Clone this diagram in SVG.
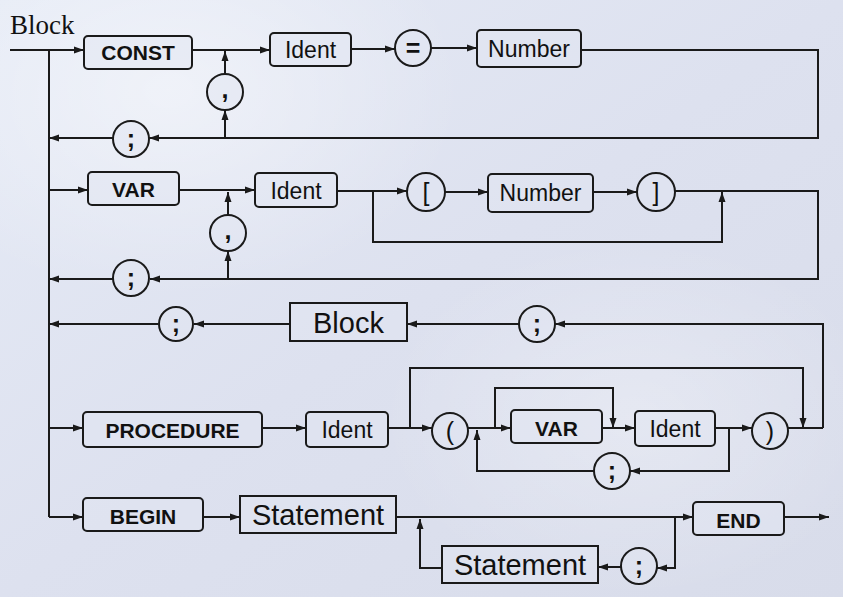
<svg xmlns="http://www.w3.org/2000/svg" width="843" height="597" viewBox="0 0 843 597">
<defs>
<linearGradient id="bg" x1="0" y1="0" x2="1" y2="1">
<stop offset="0" stop-color="#e6ebf6"/>
<stop offset="0.5" stop-color="#dde1ef"/>
<stop offset="1" stop-color="#d8dcea"/>
</linearGradient>
<radialGradient id="hl1" cx="0.2" cy="0.15" r="0.35">
<stop offset="0" stop-color="#ffffff" stop-opacity="0.45"/>
<stop offset="1" stop-color="#ffffff" stop-opacity="0"/>
</radialGradient>
<radialGradient id="hl2" cx="0.75" cy="0.7" r="0.3">
<stop offset="0" stop-color="#ffffff" stop-opacity="0.3"/>
<stop offset="1" stop-color="#ffffff" stop-opacity="0"/>
</radialGradient>
<marker id="ah" markerUnits="userSpaceOnUse" markerWidth="10" markerHeight="8" refX="10" refY="4" orient="auto">
<path d="M0,0.5 L10,4 L0,7.5 z" fill="#1a1a1a"/>
</marker>
<style>
.b{fill:#e2e6f2;fill-opacity:0.5;stroke:#1a1a1a;stroke-width:2}
.c{fill:#e2e6f2;fill-opacity:0.5;stroke:#1a1a1a;stroke-width:2}
.k{font-family:"Liberation Sans",Arial,sans-serif;font-weight:bold;font-size:21px;fill:#111;text-anchor:middle}
.n{font-family:"Liberation Sans",Arial,sans-serif;font-size:23px;fill:#111;text-anchor:middle}
.g{font-family:"Liberation Sans",Arial,sans-serif;font-size:29px;fill:#111;text-anchor:middle}
.s{font-family:"Liberation Sans",Arial,sans-serif;font-size:25px;fill:#111;text-anchor:middle}
.sb{font-family:"Liberation Sans",Arial,sans-serif;font-weight:bold;font-size:25px;fill:#111;text-anchor:middle}
#connectors path{fill:none;stroke:#1a1a1a;stroke-width:2}
.a{marker-end:url(#ah)}
</style>
</defs>
<rect width="843" height="597" fill="url(#bg)"/>
<rect width="843" height="597" fill="url(#hl1)"/>
<rect width="843" height="597" fill="url(#hl2)"/>
<text x="10" y="34" font-family="'Liberation Serif','Times New Roman',serif" font-size="27" fill="#111">Block</text>

<g id="connectors">
<!-- row 1 -->
<path d="M10,50 H49 V517"/>
<path class="a" d="M49,50 H84"/>
<path class="a" d="M192,50 H270"/>
<path class="a" d="M351,49 H395"/>
<path class="a" d="M431,48 H477"/>
<path class="a" d="M581,50 H818 V138 H149"/>
<path class="a" d="M113,138 H49"/>
<path class="a" d="M225,138 V110"/>
<path class="a" d="M225,74 V51"/>
<!-- row 2 -->
<path class="a" d="M49,190 H88"/>
<path class="a" d="M179,190 H255"/>
<path class="a" d="M337,191 H407"/>
<path class="a" d="M445,192 H488"/>
<path class="a" d="M593,192 H637"/>
<path class="a" d="M373,191 V242 H722 V192"/>
<path class="a" d="M675,191 H818 V279 H150"/>
<path class="a" d="M113,279 H49"/>
<path class="a" d="M228,279 V251"/>
<path class="a" d="M228,215 V192"/>
<!-- row 3 -->
<path class="a" d="M823,428 V324 H555"/>
<path class="a" d="M519,324 H407"/>
<path class="a" d="M290,324 H194"/>
<path class="a" d="M158,324 H49"/>
<!-- row 4 -->
<path class="a" d="M49,428 H83"/>
<path class="a" d="M262,428 H306"/>
<path class="a" d="M388,428 H432"/>
<path class="a" d="M410,428 V368 H803 V428"/>
<path class="a" d="M468,428 H511"/>
<path class="a" d="M495,428 V388 H613 V428"/>
<path class="a" d="M602,428 H635"/>
<path class="a" d="M715,428 H752"/>
<path class="a" d="M729,428 V471 H630"/>
<path class="a" d="M594,471 H477 V430"/>
<path d="M788,428 H823"/>
<!-- row 5 -->
<path class="a" d="M49,517 H83"/>
<path class="a" d="M203,517 H240"/>
<path class="a" d="M396,517 H693"/>
<path class="a" d="M784,517 H829"/>
<path class="a" d="M675,517 V568 H657"/>
<path class="a" d="M621,567 H598"/>
<path class="a" d="M442,568 H420 V519"/>
</g>

<g id="const"><rect class="b" x="84" y="36" width="108" height="33" rx="4"/><text class="k" x="138" y="60">CONST</text></g>
<g id="ident1"><rect class="b" x="270" y="33" width="81" height="33" rx="4"/><text class="n" x="310.5" y="58">Ident</text></g>
<g id="eq"><circle class="c" cx="413" cy="48" r="18"/><text class="sb" x="413" y="57">=</text></g>
<g id="number1"><rect class="b" x="477" y="30" width="104" height="37" rx="4"/><text class="n" x="529" y="57">Number</text></g>
<g id="comma1"><circle class="c" cx="225" cy="92" r="18"/><text class="sb" x="225" y="98">,</text></g>
<g id="semi1"><circle class="c" cx="131" cy="139" r="18"/><text class="sb" x="131" y="147">;</text></g>

<g id="var1"><rect class="b" x="88" y="172" width="91" height="33" rx="4"/><text class="k" x="133.5" y="197">VAR</text></g>
<g id="ident2"><rect class="b" x="255" y="173" width="82" height="34" rx="4"/><text class="n" x="296" y="199">Ident</text></g>
<g id="lbr"><circle class="c" cx="426" cy="192" r="19"/><text class="s" x="426" y="201">[</text></g>
<g id="number2"><rect class="b" x="488" y="174" width="105" height="38" rx="4"/><text class="n" x="540.5" y="201">Number</text></g>
<g id="rbr"><circle class="c" cx="656" cy="192" r="19"/><text class="s" x="656" y="201">]</text></g>
<g id="comma2"><circle class="c" cx="228" cy="233" r="18"/><text class="sb" x="228" y="239">,</text></g>
<g id="semi2"><circle class="c" cx="131" cy="278" r="18"/><text class="sb" x="131" y="286">;</text></g>

<g id="semi3"><circle class="c" cx="537" cy="324" r="18"/><text class="sb" x="537" y="332">;</text></g>
<g id="block"><rect class="b" x="290" y="303" width="117" height="38"/><text class="g" x="348.5" y="333">Block</text></g>
<g id="semi4"><circle class="c" cx="176" cy="324" r="17"/><text class="sb" x="176" y="332">;</text></g>

<g id="procedure"><rect class="b" x="83" y="412" width="179" height="35" rx="4"/><text class="k" x="172.5" y="438">PROCEDURE</text></g>
<g id="ident3"><rect class="b" x="306" y="412" width="82" height="35" rx="4"/><text class="n" x="347" y="438">Ident</text></g>
<g id="lpar"><circle class="c" cx="450" cy="431" r="18"/><text class="s" x="450" y="440">(</text></g>
<g id="var2"><rect class="b" x="511" y="410" width="91" height="33" rx="4"/><text class="k" x="556.5" y="436">VAR</text></g>
<g id="ident4"><rect class="b" x="635" y="411" width="80" height="35" rx="4"/><text class="n" x="675" y="437">Ident</text></g>
<g id="rpar"><circle class="c" cx="770" cy="431" r="18"/><text class="s" x="770" y="440">)</text></g>
<g id="semi5"><circle class="c" cx="612" cy="471" r="18"/><text class="sb" x="612" y="479">;</text></g>

<g id="begin"><rect class="b" x="83" y="498" width="120" height="33" rx="4"/><text class="k" x="143" y="524">BEGIN</text></g>
<g id="statement1"><rect class="b" x="240" y="496" width="156" height="37"/><text class="g" x="318" y="525">Statement</text></g>
<g id="end"><rect class="b" x="693" y="502" width="91" height="33" rx="4"/><text class="k" x="738.5" y="528">END</text></g>
<g id="semi6"><circle class="c" cx="639" cy="566" r="18"/><text class="sb" x="639" y="574">;</text></g>
<g id="statement2"><rect class="b" x="442" y="546" width="156" height="37"/><text class="g" x="520" y="575">Statement</text></g>
</svg>
